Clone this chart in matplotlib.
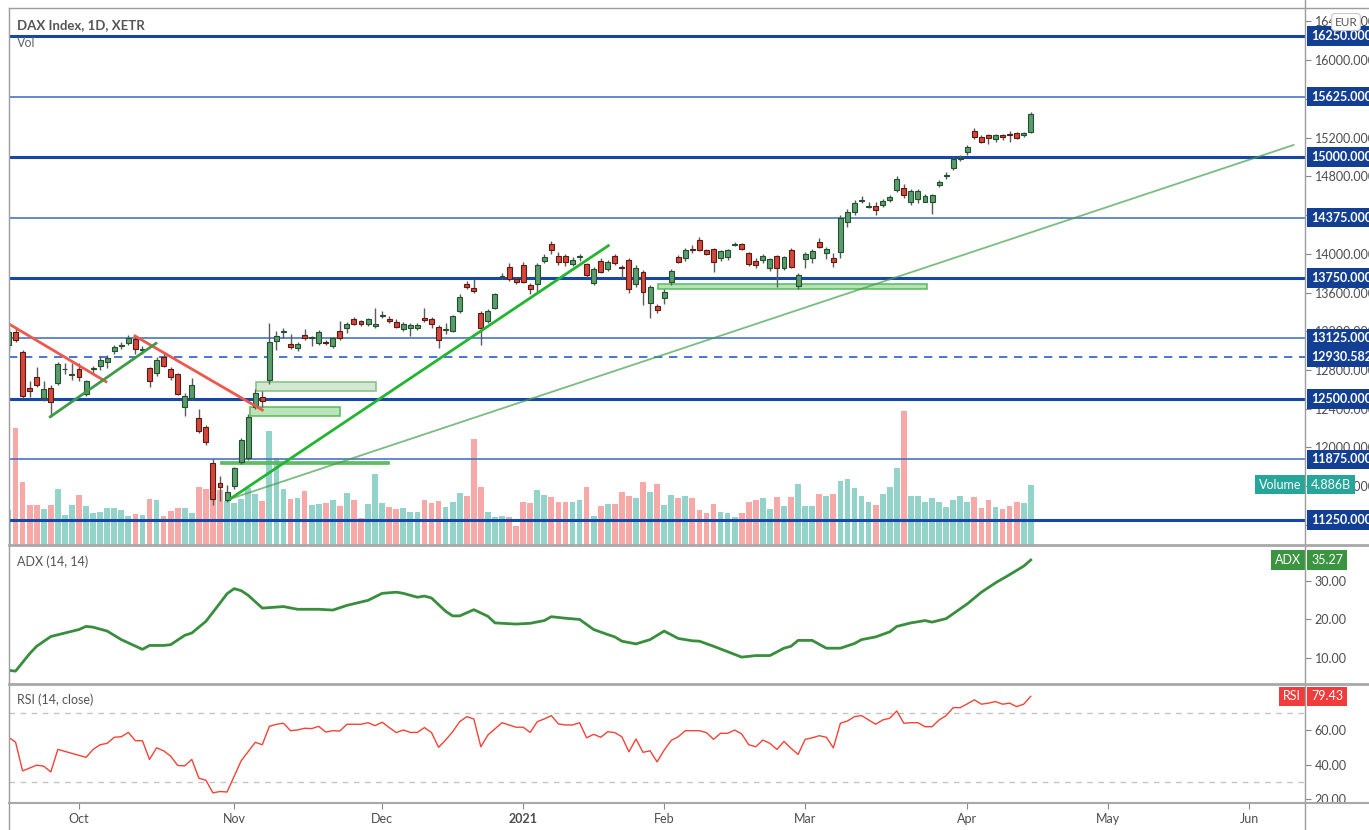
#!/usr/bin/env python3
"""DAX daily candles with volume, ADX(14,14) and RSI(14) panes, TradingView look."""
import matplotlib
matplotlib.use("Agg")
import matplotlib.pyplot as plt
import matplotlib.transforms as mtransforms
from matplotlib.lines import Line2D
from matplotlib.patches import Rectangle
import numpy as np

plt.rcParams["font.family"] = ["Lato", "DejaVu Sans"]

# ── data (bar index 0 = 17 Sep 2020, last = 16 Apr 2021) ──────────────────────

OPEN = [13058, 13195, 12989, 12617, 12731, 12508, 12611, 12662, 12805, 12750,
        12806, 12548, 12810, 12843, 12885, 12999, 13050, 13075, 13119, 13005,
        12817, 12764, 12937, 12806, 12755, 12420, 12508, 12301, 12207, 11836,
        11629, 11456, 11601, 11852, 11887, 12420, 12524, 12696, 13099, 13195,
        13065, 13023, 13161, 13130, 13075, 13092, 13048, 13203, 13237, 13330,
        13305, 13271, 13255, 13360, 13330, 13299, 13220, 13237, 13237, 13340,
        13330, 13248, 13215, 13203, 13409, 13684, 13643, 13392, 13306, 13443,
        13765, 13861, 13737, 13885, 13674, 13684, 13930, 14102, 13978, 13978,
        13892, 13965, 13892, 13696, 13926, 13840, 13981, 13860, 13933, 13684,
        13816, 13495, 13464, 13547, 13713, 13971, 13961, 14045, 14143, 14040,
        14050, 13954, 13964, 14095, 14098, 14009, 13926, 13937, 13850, 13978,
        13850, 14040, 13669, 13947, 13954, 14119, 14005, 13954, 14016, 14332,
        14429, 14550, 14490, 14494, 14504, 14556, 14659, 14683, 14539, 14563,
        14539, 14539, 14711, 14800, 14890, 14975, 15048, 15272, 15210, 15224,
        15183, 15224, 15235, 15245, 15224, 15261]
HIGH = [13230, 13240, 13010, 12689, 12827, 12683, 12640, 12880, 12870, 12868,
        12870, 12700, 12840, 12940, 12950, 13060, 13090, 13160, 13140, 13050,
        12830, 12930, 12990, 12830, 12770, 12560, 12717, 12400, 12230, 11880,
        11708, 11611, 11800, 12100, 12350, 12600, 12580, 13288, 13205, 13237,
        13172, 13090, 13227, 13150, 13210, 13110, 13140, 13306, 13300, 13345,
        13320, 13340, 13436, 13410, 13360, 13330, 13300, 13290, 13290, 13443,
        13350, 13260, 13280, 13370, 13580, 13720, 13741, 13410, 13430, 13600,
        13800, 13900, 13760, 13920, 13700, 13900, 14000, 14130, 14020, 14000,
        13970, 14000, 13900, 13860, 13960, 13940, 14000, 13880, 13960, 13880,
        13830, 13680, 13480, 13640, 13840, 13990, 14060, 14090, 14170, 14050,
        14060, 14040, 14050, 14120, 14110, 14020, 13960, 14000, 13960, 13990,
        13980, 14060, 13800, 14020, 14050, 14160, 14070, 14010, 14400, 14460,
        14560, 14600, 14530, 14530, 14570, 14610, 14800, 14720, 14670, 14670,
        14620, 14620, 14760, 14840, 15010, 15020, 15120, 15300, 15230, 15240,
        15240, 15240, 15270, 15260, 15260, 15462]
LOW = [13000, 13090, 12510, 12520, 12620, 12480, 12317, 12640, 12760, 12700,
       12690, 12530, 12760, 12800, 12820, 12960, 13020, 13060, 12970, 12960,
       12620, 12740, 12830, 12700, 12540, 12324, 12490, 12150, 12025, 11400,
       11450, 11440, 11570, 11830, 11870, 12400, 12418, 12660, 13006, 13130,
       13020, 13000, 13110, 13050, 13060, 13060, 13030, 13110, 13180, 13260,
       13250, 13250, 13230, 13340, 13290, 13230, 13200, 13151, 13210, 13300,
       13230, 13030, 13170, 13190, 13390, 13640, 13590, 13058, 13280, 13430,
       13740, 13720, 13690, 13700, 13580, 13590, 13900, 14000, 13880, 13870,
       13870, 13930, 13750, 13680, 13800, 13820, 13880, 13750, 13600, 13660,
       13471, 13340, 13390, 13480, 13680, 13900, 13930, 14010, 14030, 13990,
       13809, 13930, 13940, 14080, 14040, 13870, 13850, 13910, 13820, 13655,
       13830, 13850, 13640, 13850, 13900, 14060, 13950, 13860, 13960, 14280,
       14400, 14520, 14470, 14400, 14480, 14530, 14640, 14580, 14500, 14520,
       14530, 14411, 14690, 14770, 14870, 14960, 15020, 15190, 15140, 15130,
       15150, 15180, 15160, 15190, 15210, 15250]
CLOSE = [13195, 13110, 12534, 12586, 12642, 12601, 12467, 12862, 12814, 12760,
         12724, 12686, 12820, 12902, 12926, 13040, 13058, 13129, 13012, 13015,
         12689, 12902, 12844, 12731, 12548, 12534, 12643, 12173, 12059, 11470,
         11587, 11542, 11784, 12076, 12317, 12558, 12479, 13086, 13151, 13203,
         13041, 13068, 13127, 13135, 13196, 13082, 13127, 13127, 13279, 13279,
         13271, 13323, 13279, 13367, 13306, 13248, 13279, 13265, 13265, 13320,
         13279, 13110, 13225, 13357, 13556, 13660, 13615, 13231, 13413, 13581,
         13775, 13740, 13713, 13713, 13640, 13885, 13971, 14040, 13920, 13913,
         13937, 13971, 13782, 13840, 13809, 13912, 13902, 13857, 13633, 13857,
         13609, 13660, 13419, 13609, 13826, 13919, 14040, 14040, 14040, 13999,
         13912, 14029, 14040, 14100, 14050, 13895, 13885, 13981, 13947, 13857,
         13964, 13868, 13782, 13999, 14029, 14067, 14050, 13912, 14367, 14435,
         14528, 14556, 14494, 14452, 14549, 14590, 14770, 14608, 14652, 14652,
         14601, 14608, 14742, 14810, 14979, 14985, 15100, 15203, 15158, 15193,
         15224, 15203, 15228, 15193, 15245, 15441]
# volume in billions
VOLUME = [2.83, 9.45, 5.09, 3.23, 3.23, 2.91, 3.23, 4.52, 2.42, 3.23,
          4.04, 3.15, 2.59, 2.67, 2.99, 2.99, 2.83, 2.34, 2.50, 2.42,
          3.72, 3.64, 2.34, 2.75, 2.99, 2.99, 2.59, 4.69, 4.52, 4.44,
          4.44, 3.56, 3.39, 3.72, 4.61, 4.12, 3.56, 9.21, 7.03, 4.52,
          3.72, 3.80, 4.36, 3.23, 3.31, 3.39, 3.64, 3.15, 4.20, 3.64,
          2.18, 3.31, 5.74, 3.39, 3.07, 2.91, 2.99, 2.67, 2.67, 3.64,
          3.39, 3.56, 3.07, 3.47, 4.20, 3.96, 8.56, 4.69, 2.67, 2.26,
          2.34, 2.26, 1.54, 3.47, 3.39, 4.44, 4.04, 3.88, 3.47, 3.47,
          3.47, 3.64, 4.69, 2.34, 3.15, 3.31, 3.31, 4.28, 3.96, 3.80,
          5.09, 4.28, 4.93, 3.23, 4.04, 3.80, 3.96, 3.80, 2.83, 2.59,
          3.31, 2.67, 2.59, 2.26, 2.59, 3.47, 3.64, 3.80, 2.91, 3.88,
          3.19, 3.88, 4.89, 3.19, 3.19, 4.12, 3.92, 4.12, 5.17, 5.33,
          4.61, 4.00, 3.51, 3.27, 4.12, 4.69, 6.22, 10.87, 3.92, 3.92,
          3.51, 3.76, 3.51, 3.11, 3.60, 3.92, 3.51, 3.84, 2.95, 3.60,
          3.11, 2.87, 3.19, 3.51, 3.43, 4.886]

ADX_BARS = [0, 1, 3, 4, 6, 8, 10, 11, 12, 14, 16, 19, 20, 22, 23, 25, 26, 28, 30, 31,
            32, 33, 34, 36, 39, 41, 44, 46, 48, 51, 53, 55, 56, 58, 59, 60, 62, 63, 64, 66,
            68, 69, 72, 74, 76, 77, 79, 81, 83, 85, 86, 87, 89, 91, 93, 95, 97, 98, 100, 104,
            106, 108, 110, 111, 112, 114, 116, 118, 120, 121, 123, 125, 126, 128, 130, 131, 133, 136, 138, 140,
            142, 144, 145]
ADX_VALUES = [6.9, 6.7, 11.2, 13.1, 15.6, 16.5, 17.4, 18.2, 18.0, 17.0, 14.8, 12.3, 13.3, 13.3, 13.5, 15.9, 16.5, 19.5, 24.2, 26.6,
              27.9, 27.4, 26.2, 22.9, 23.3, 22.6, 22.6, 22.4, 23.6, 24.9, 26.7, 27.0, 26.7, 25.7, 26.0, 25.5, 22.1, 20.9, 20.9, 22.5,
              20.8, 19.1, 18.8, 19.0, 19.7, 20.7, 20.3, 20.0, 17.4, 16.1, 15.5, 14.4, 13.7, 14.8, 17.0, 15.1, 14.5, 14.4, 13.1, 10.3,
              10.7, 10.7, 12.6, 13.1, 14.6, 14.6, 12.6, 12.6, 13.8, 14.8, 15.5, 16.8, 18.2, 19.1, 19.7, 19.3, 20.2, 24.0, 27.0, 29.4,
              31.5, 33.7, 35.27]

RSI_BARS = [0, 1, 2, 4, 5, 6, 7, 9, 11, 12, 13, 14, 15, 16, 17, 18, 19, 20, 21, 22,
            23, 24, 25, 26, 27, 28, 29, 30, 31, 33, 35, 36, 37, 38, 39, 40, 41, 42, 43, 44,
            45, 46, 47, 48, 50, 51, 52, 53, 54, 55, 56, 57, 58, 59, 60, 61, 62, 63, 64, 65,
            66, 67, 68, 70, 71, 72, 73, 74, 75, 76, 77, 78, 79, 80, 81, 82, 83, 84, 85, 86,
            87, 88, 89, 90, 91, 92, 93, 94, 95, 96, 98, 99, 100, 101, 102, 103, 104, 105, 106, 107,
            108, 109, 110, 111, 112, 113, 114, 115, 116, 117, 118, 119, 120, 121, 122, 123, 124, 125, 126, 127,
            128, 129, 130, 131, 132, 133, 134, 135, 136, 137, 138, 139, 140, 141, 142, 143, 144, 145]
RSI_VALUES = [55.8, 53.0, 36.4, 39.7, 39.1, 35.8, 48.8, 46.5, 44.2, 48.8, 51.5, 52.3, 55.8, 56.1, 58.6, 53.8, 53.8, 43.0, 49.7, 48.0,
              44.9, 39.5, 39.3, 43.0, 32.2, 31.0, 23.7, 24.5, 24.2, 42.2, 52.9, 51.5, 62.1, 63.3, 63.9, 59.6, 60.0, 61.0, 60.8, 62.1,
              58.8, 59.6, 59.4, 63.3, 63.3, 64.2, 62.5, 64.5, 61.4, 58.5, 60.0, 58.6, 58.6, 61.4, 58.5, 50.0, 54.2, 59.0, 64.8, 67.7,
              66.4, 50.3, 57.1, 64.2, 62.9, 61.6, 61.6, 58.6, 64.8, 66.4, 68.3, 63.5, 62.9, 62.9, 64.2, 55.5, 57.5, 55.8, 59.0, 58.5,
              56.1, 47.4, 54.8, 47.1, 48.0, 41.6, 48.4, 54.0, 56.1, 59.6, 59.6, 58.5, 54.6, 58.1, 58.1, 60.0, 57.7, 51.5, 50.3, 54.2,
              52.3, 48.8, 53.4, 49.4, 45.9, 54.6, 55.5, 56.7, 55.8, 49.7, 63.9, 65.2, 67.7, 68.3, 65.8, 63.3, 65.8, 66.8, 71.0, 63.9,
              64.2, 64.2, 61.9, 61.9, 65.8, 68.3, 72.9, 72.9, 75.1, 77.4, 74.9, 75.5, 76.4, 74.9, 75.5, 73.5, 74.9, 79.43]

# horizontal levels drawn on the chart
MAJOR_LEVELS = [16250, 15000, 13750, 12500, 11250]
MINOR_LEVELS = [15625, 14375, 13125, 11875]
DASHED_LEVEL = 12930.582
PRICE_TICKS = [11200, 11600, 12000, 12400, 12800, 13200, 13600, 14000,
               14400, 14800, 15200, 15600, 16000, 16400]

# trend lines (bar index, price)
RED_LINES = [[(0.07, 13275), (13.83, 12679)],
             [(17.94, 13151), (36.0, 12386)]]
GREEN_SHORT = [(5.93, 12317), (20.92, 13075)]
GREEN_MAIN = [(31.42, 11467), (85.08, 14084)]
GREEN_LONG = [(31.42, 11467), (182.27, 15124)]
# support zones (bar from, bar to, price low, price high)
ZONES = [(35.06, 52.09, 12583, 12673),
         (34.21, 47.06, 12327, 12417),
         (30.10, 54.01, 11825, 11852),
         (92.17, 130.28, 13636, 13688)]

MONTH_BARS = [10, 32, 53, 73, 93, 113, 136, 156, 176]
MONTH_LABELS = ["Oct", "Nov", "Dec", "2021", "Feb", "Mar", "Apr", "May", "Jun"]

# ── layout (pixels of a 1369 x 830 canvas) ────────────────────────────────────

W, H = 1369, 830
PANE_L, PANE_R = 9, 1305
GRID_C = "#9c9c9c"
TXT_C = "#4d4d4d"
LEVEL_C = "#1747a6"
TAG_BLUE = "#123f94"


def pane_rect(top, bottom):
    return [PANE_L / W, 1 - bottom / H, (PANE_R - PANE_L) / W, (bottom - top) / H]


fig = plt.figure(figsize=(W / 100, H / 100), dpi=100)
fig.patch.set_facecolor("white")

ax_vol = fig.add_axes(pane_rect(8, 545))
ax = fig.add_axes(pane_rect(8, 545))
ax_adx = fig.add_axes(pane_rect(545, 684))
ax_rsi = fig.add_axes(pane_rect(684, 803))

for a in (ax_vol, ax, ax_adx, ax_rsi):
    a.set_xlim(0.07, 183.9)
    for s in a.spines.values():
        s.set_visible(False)
    a.set_xticks([])
ax.patch.set_alpha(0)
ax_vol.set_yticks([])

x = np.arange(len(CLOSE))
o, h, l, c = (np.array(v, dtype=float) for v in (OPEN, HIGH, LOW, CLOSE))
up = c >= o

# volume
ax_vol.set_ylim(0, 43.4)
ax_vol.bar(x, VOLUME, width=0.82, color=np.where(up, "#93d3ca", "#f6a9a7"), zorder=1)

# candles
ax.set_ylim(10991.7, 16539.3)
ax.vlines(x, l, h, color="#5a5a5a", lw=1, zorder=4)
diff = np.abs(c - o)
bot = np.where(diff < 9, (o + c) / 2 - 4.5, np.minimum(o, c))
hgt = np.maximum(diff, 9)
ax.bar(x[up], hgt[up], bottom=bot[up], width=0.7, color="#5b9c6c",
       edgecolor="#21502f", lw=0.8, zorder=5)
ax.bar(x[~up], hgt[~up], bottom=bot[~up], width=0.7, color="#d4473a",
       edgecolor="#5c1a14", lw=0.8, zorder=5)

# levels
for lv in MAJOR_LEVELS:
    ax.axhline(lv, color=LEVEL_C, lw=2.2, zorder=2)
for lv in MINOR_LEVELS:
    ax.axhline(lv, color="#4a74c6", lw=1.2, zorder=2)
ax.axhline(DASHED_LEVEL, color="#2a5fcc", lw=1.2, dashes=(5, 4), zorder=2)

# zones
zone_style = [("#cfe5cf", "#7cc07f"), ("#b4e3b2", "#55b95b"),
              ("#a2d9a4", "#45b24b"), ("#afdfaf", "#52bb57")]
for (x0, x1, p0, p1), (fc, ec) in zip(ZONES, zone_style):
    ax.add_patch(Rectangle((x0, p0), x1 - x0, p1 - p0, facecolor=fc,
                           edgecolor=ec, lw=1.2, alpha=0.9, zorder=3))

# trend lines
for seg in RED_LINES:
    ax.plot(*zip(*seg), color="#f0574b", lw=2, zorder=6)
ax.plot(*zip(*GREEN_SHORT), color="#3f9a4a", lw=2, zorder=6)
ax.plot(*zip(*GREEN_MAIN), color="#22b530", lw=2, zorder=6)
ax.plot(*zip(*GREEN_LONG), color="#449f4a", lw=1.3, alpha=0.7, zorder=6)

# right price scale
ax.yaxis.tick_right()
ax.set_yticks(PRICE_TICKS)
ax.set_yticklabels([f"{v:.3f}" for v in PRICE_TICKS])
for a in (ax, ax_adx, ax_rsi):
    a.tick_params(axis="y", right=True, left=False, length=4, width=0.8,
                  color="#888888", labelcolor=TXT_C, labelsize=9, pad=3)

ax_adx.set_ylim(3.39, 39.13)
ax_adx.plot(ADX_BARS, ADX_VALUES, color="#388e3c", lw=2)
ax_adx.yaxis.tick_right()
ax_adx.set_yticks([10, 20, 30])
ax_adx.set_yticklabels(["10.00", "20.00", "30.00"])

ax_rsi.set_ylim(17.86, 86.55)
for lv in (70, 30):
    ax_rsi.axhline(lv, color="#c4c4c4", lw=1, dashes=(4, 4))
ax_rsi.plot(RSI_BARS, RSI_VALUES, color="#f44336", lw=1)
ax_rsi.yaxis.tick_right()
ax_rsi.set_yticks([20, 40, 60])
ax_rsi.set_yticklabels(["20.00", "40.00", "60.00"])

ax_rsi.set_xticks(MONTH_BARS)
ax_rsi.set_xticklabels(MONTH_LABELS)
ax_rsi.tick_params(axis="x", bottom=True, length=4, width=0.8, color="#888888",
                   labelcolor=TXT_C, labelsize=9, pad=3)
for t in ax_rsi.get_xticklabels():
    if t.get_text() == "2021":
        t.set_fontweight("bold")


def tag(host, scale_ax, y, text, fc, x_px, ha="left", weight="bold"):
    """Coloured value box on the price scale; y is in scale_ax data units."""
    tr = mtransforms.blended_transform_factory(fig.transFigure, scale_ax.transData)
    host.text(x_px / W, y, text, transform=tr, ha=ha, va="center", color="white",
              fontsize=9, fontweight=weight, zorder=20, clip_on=False,
              bbox=dict(boxstyle="square,pad=0.3", fc=fc, ec="none"))


for lv in MAJOR_LEVELS + MINOR_LEVELS + [DASHED_LEVEL]:
    tag(ax, ax, lv, f"{lv:.3f}", TAG_BLUE, 1311)

# volume tags live on the price axes so they cover its tick labels
tag(ax, ax_vol, VOLUME[-1], "Volume", "#26a69a", 1301, ha="right", weight="normal")
tag(ax, ax_vol, VOLUME[-1], f"{VOLUME[-1]:.3f}B", "#26a69a", 1311, weight="normal")
tag(ax_adx, ax_adx, ADX_VALUES[-1], "ADX", "#3b9440", 1301, ha="right", weight="normal")
tag(ax_adx, ax_adx, ADX_VALUES[-1], f"{ADX_VALUES[-1]:.2f}", "#3b9440", 1311, weight="normal")
tag(ax_rsi, ax_rsi, RSI_VALUES[-1], "RSI", "#f23b3b", 1301, ha="right", weight="normal")
tag(ax_rsi, ax_rsi, RSI_VALUES[-1], f"{RSI_VALUES[-1]:.2f}", "#f23b3b", 1311, weight="normal")

fig.text(1346 / W, 1 - 22 / H, "EUR", ha="center", va="center", fontsize=8.5,
         color="#555555", zorder=30,
         bbox=dict(boxstyle="round,pad=0.25", fc="white", ec="#c8c8c8", lw=0.8))


# frame lines
def fline(xs, ys, lw, color=GRID_C):
    fig.add_artist(Line2D([v / W for v in xs], [1 - v / H for v in ys],
                          transform=fig.transFigure, color=color, lw=lw, zorder=25))


fline([PANE_L, W], [8, 8], 1)
fline([PANE_L, PANE_L], [8, H], 1)
fline([PANE_R, PANE_R], [0, H], 1)
fline([PANE_L, W], [545, 545], 2, "#a8a8a8")
fline([PANE_L, W], [684, 684], 2, "#a8a8a8")
fline([PANE_L, W], [803, 803], 1.5, "#a8a8a8")

# pane titles
fig.text(17 / W, 1 - 25 / H, "DAX Index, 1D, XETR", fontsize=9.5, fontweight="bold",
         color="#555555", va="center")
fig.text(17 / W, 1 - 43 / H, "Vol", fontsize=9, color="#666666", va="center")
fig.text(17 / W, 1 - 562 / H, "ADX (14, 14)", fontsize=9, color="#555555", va="center")
fig.text(17 / W, 1 - 700 / H, "RSI (14, close)", fontsize=9, color="#555555", va="center")

fig.savefig("out.png", dpi=100, facecolor="white")
